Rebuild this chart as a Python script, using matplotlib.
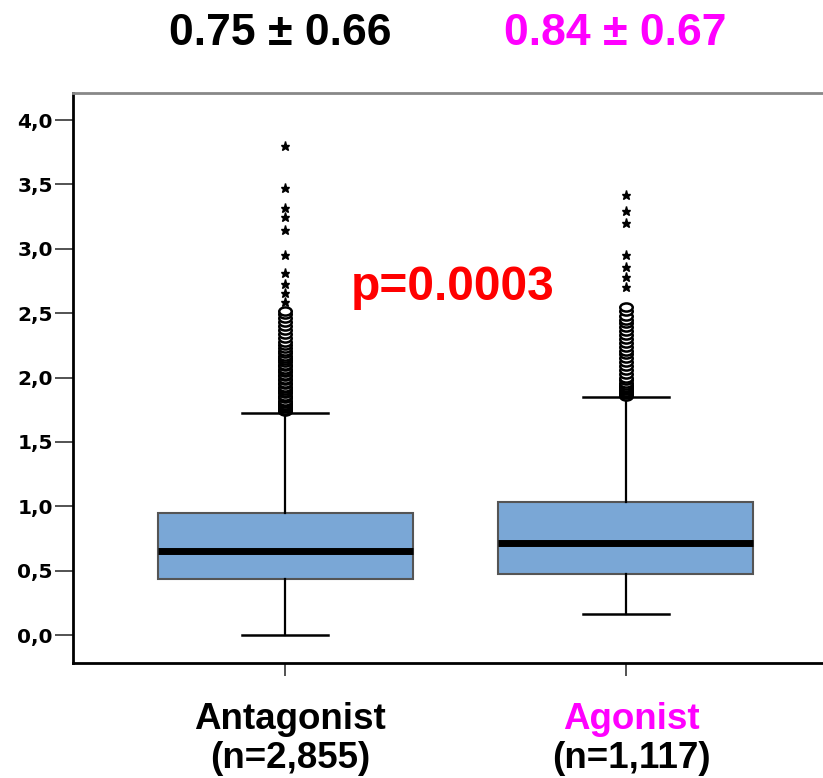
import matplotlib
matplotlib.use("Agg")
import matplotlib.pyplot as plt
import matplotlib.transforms as mtransforms
from matplotlib.path import Path

# Box summaries
groups = ["Antagonist", "Agonist"]
counts = ["(n=2,855)", "(n=1,117)"]
summaries = ["0.75 ± 0.66", "0.84 ± 0.67"]
q1 = [0.435, 0.474]
med = [0.652, 0.715]
q3 = [0.948, 1.033]
whislo = [0.0, 0.163]
whishi = [1.724, 1.85]

# Outliers (circles) and extremes (stars)
circles_ant = [1.74, 1.75, 1.76, 1.77, 1.78, 1.79, 1.80, 1.81, 1.82, 1.84, 1.85,
               1.86, 1.88, 1.89, 1.90, 1.92, 1.93, 1.95, 1.96, 1.98, 1.99, 2.01,
               2.02, 2.04, 2.05, 2.07, 2.09, 2.10, 2.12, 2.14, 2.15, 2.17, 2.19,
               2.21, 2.23, 2.25, 2.28, 2.31, 2.34, 2.37, 2.40, 2.43, 2.46, 2.49,
               2.52]
stars_ant = [2.59, 2.66, 2.73, 2.81, 2.95, 3.15, 3.25, 3.32, 3.47, 3.80]
circles_ago = [1.86, 1.87, 1.88, 1.89, 1.90, 1.91, 1.92, 1.93, 1.94, 1.96, 1.98,
               2.00, 2.03, 2.06, 2.09, 2.12, 2.15, 2.18, 2.21, 2.24, 2.27, 2.30,
               2.33, 2.36, 2.39, 2.42, 2.45, 2.48, 2.52, 2.55]
stars_ago = [2.70, 2.78, 2.86, 2.95, 3.20, 3.29, 3.42]
circles = [circles_ant, circles_ago]
stars = [stars_ant, stars_ago]

yticks = [0.0, 0.5, 1.0, 1.5, 2.0, 2.5, 3.0, 3.5, 4.0]
ytick_labels = ["0,0", "0,5", "1,0", "1,5", "2,0", "2,5", "3,0", "3,5", "4,0"]

label_colors = ["black", "#ff00ff"]

plt.rcParams['font.family'] = ['Liberation Sans', 'DejaVu Sans']

# flattened circle, like the stretched SPSS export
circ = Path.unit_circle()
ellipse = Path(circ.vertices * [1.0, 0.65], circ.codes)

fig = plt.figure(figsize=(8.23, 7.78), dpi=100)
ax = fig.add_axes([0.0887, 0.1478, 0.9113, 0.7326])

positions = [1, 2]
stats = []
for i in range(2):
    stats.append(dict(q1=q1[i], med=med[i], q3=q3[i], whislo=whislo[i],
                      whishi=whishi[i], fliers=[]))

ax.bxp(stats, positions=positions, widths=0.748, capwidths=0.25,
       patch_artist=True, showfliers=False,
       boxprops=dict(facecolor="#7aa7d6", edgecolor="#555555", linewidth=1.5),
       medianprops=dict(color="black", linewidth=5),
       whiskerprops=dict(color="black", linewidth=1.6),
       capprops=dict(color="black", linewidth=1.8))

for i, p in enumerate(positions):
    ax.plot([p] * len(circles[i]), circles[i], linestyle="none", marker=ellipse,
            markersize=9, markerfacecolor="white", markeredgecolor="black",
            markeredgewidth=1.8)
    ax.plot([p] * len(stars[i]), stars[i], linestyle="none", marker="*",
            markersize=6.5, color="black")

ax.set_xlim(0.378, 2.578)
ax.set_ylim(-0.2175, 4.21)
ax.set_yticks(yticks)
ax.set_yticklabels(ytick_labels, fontsize=14.5, fontweight="bold",
                   family=["DejaVu Sans"])
ax.set_xticks(positions)
ax.set_xticklabels(["", ""])
ax.tick_params(axis="y", length=13, width=1.3, color="#444444", pad=1.5)
ax.tick_params(axis="x", length=9.5, width=1.3, color="#444444")

ax.spines["right"].set_visible(False)
ax.spines["top"].set_color("#888888")
ax.spines["top"].set_linewidth(2)
ax.spines["left"].set_linewidth(2)
ax.spines["bottom"].set_linewidth(2)

ax.text(1.493, 2.70, "p=0.0003", color="#ff0000", fontsize=34.5,
        fontweight="bold", ha="center", va="center")

trans = mtransforms.blended_transform_factory(ax.transData, fig.transFigure)
summary_x = [0.985, 1.97]
for i in range(2):
    ax.text(summary_x[i], 0.957, summaries[i], transform=trans,
            color=label_colors[i], fontsize=32, fontweight="bold",
            ha="center", va="center")
    ax.text(positions[i] + 0.015, 0.075, groups[i], transform=trans,
            color=label_colors[i], fontsize=26.5, fontweight="bold",
            ha="center", va="center")
    ax.text(positions[i] + 0.015, 0.025, counts[i], transform=trans,
            color="black", fontsize=26.5, fontweight="bold",
            ha="center", va="center")

fig.savefig("out.png", dpi=100)
